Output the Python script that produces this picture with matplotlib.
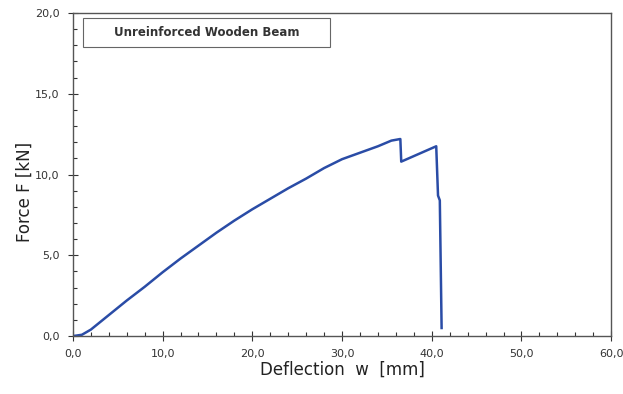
import numpy as np
import matplotlib
matplotlib.use('Agg')
import matplotlib.pyplot as plt
from matplotlib.patches import Rectangle
from matplotlib.ticker import MultipleLocator, FuncFormatter

# data
deflection = [0, 1, 2, 4, 6, 8, 10, 12, 14, 16, 18, 20, 22, 24, 26, 28, 30, 32, 34,
              35.5, 36.5, 36.6, 40.5, 40.7, 40.9, 41.1]
force = [0, 0.08, 0.4, 1.3, 2.2, 3.05, 3.95, 4.8, 5.6, 6.4, 7.15, 7.85, 8.5, 9.15,
         9.75, 10.4, 10.95, 11.35, 11.75, 12.1, 12.2, 10.8, 11.75, 8.7, 8.4, 0.5]
legend_label = 'Unreinforced Wooden Beam'

fig = plt.figure(figsize=(6.23, 3.94), dpi=100)
ax = fig.add_axes([0.117, 0.147, 0.864, 0.820])

ax.plot(deflection, force, color='#2a4ca6', lw=1.8)

ax.set_xlim(0, 60)
ax.set_ylim(0, 20)
ax.xaxis.set_major_locator(MultipleLocator(10))
ax.xaxis.set_minor_locator(MultipleLocator(2))
ax.yaxis.set_major_locator(MultipleLocator(5))
ax.yaxis.set_minor_locator(MultipleLocator(1))
fmt = FuncFormatter(lambda v, p: f'{v:.1f}'.replace('.', ','))
ax.xaxis.set_major_formatter(fmt)
ax.yaxis.set_major_formatter(fmt)
ax.tick_params(which='major', direction='inout', length=7, width=0.8,
               labelsize=8, colors='#333333', pad=6)
ax.tick_params(which='minor', direction='in', length=3, width=0.8, colors='#333333')
for s in ax.spines.values():
    s.set_color('#555555')
    s.set_linewidth(1.0)

ax.set_xlabel('Deflection  w  [mm]', fontsize=12, color='#222222', labelpad=1)
ax.set_ylabel('Force F [kN]', fontsize=12, color='#222222')
ax.yaxis.set_label_coords(-0.072, 0.446)

# legend box
ax.add_patch(Rectangle((0.018, 0.895), 0.46, 0.09, transform=ax.transAxes,
                       fc='white', ec='#666666', lw=0.8, zorder=3))
ax.text(0.248, 0.94, legend_label, transform=ax.transAxes, fontsize=8.5,
        fontweight='bold', color='#333333', ha='center', va='center', zorder=4)

fig.savefig('out.png', dpi=100)
